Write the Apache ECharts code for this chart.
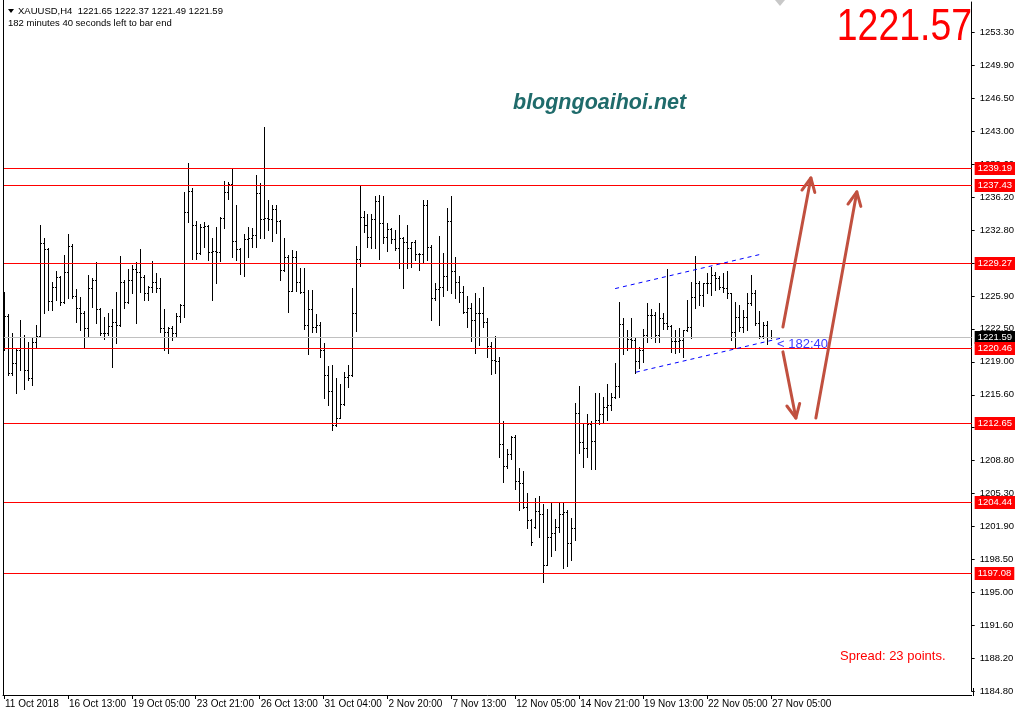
<!DOCTYPE html>
<html><head><meta charset="utf-8">
<script src="https://cdn.jsdelivr.net/npm/echarts@6/dist/echarts.min.js"></script>
<style>html,body{margin:0;padding:0;background:#fff}#c{width:1017px;height:718px}</style>
</head><body><div id="c"></div>
<script>
// OHLC bars, XAUUSD H4 (open, high, low, close)
const bars = [
[1221.5,1226.34,1220.28,1223.85],[1223.85,1224.02,1217.68,1217.85],[1217.85,1222.08,1217.68,1218.89],[1218.89,1220.35,1215.78,1220.28],
[1220.28,1223.40,1218.20,1221.60],[1221.60,1221.84,1216.19,1218.20],[1218.20,1221.15,1217.16,1217.40],[1217.40,1221.60,1216.64,1221.15],
[1221.15,1222.88,1220.63,1221.77],[1221.77,1233.27,1221.60,1231.37],[1231.37,1231.96,1224.09,1230.78],[1230.78,1230.90,1224.44,1225.41],
[1225.41,1227.31,1224.44,1226.86],[1226.86,1228.49,1225.48,1227.90],[1227.90,1228.00,1224.96,1225.30],[1225.30,1230.16,1225.20,1228.35],
[1228.35,1232.34,1225.65,1231.09],[1231.09,1231.26,1225.65,1225.93],[1225.93,1226.62,1223.23,1224.61],[1224.61,1225.82,1222.36,1224.16],
[1224.16,1224.30,1220.45,1222.60],[1222.60,1228.08,1221.67,1226.76],[1226.76,1227.73,1224.78,1227.56],[1227.56,1229.39,1223.12,1224.51],
[1224.51,1224.60,1221.84,1222.01],[1222.01,1223.74,1221.39,1222.01],[1222.01,1224.09,1221.84,1222.81],[1222.81,1224.51,1218.55,1223.16],
[1223.16,1226.27,1220.97,1222.88],[1222.88,1230.05,1222.80,1227.38],[1227.38,1227.56,1224.61,1225.30],[1225.30,1228.70,1225.13,1227.56],
[1227.56,1229.12,1226.17,1228.70],[1228.70,1229.39,1223.05,1228.35],[1228.35,1230.78,1226.34,1227.90],[1227.90,1228.08,1225.48,1226.17],
[1226.17,1226.93,1225.48,1226.86],[1226.86,1229.53,1226.34,1227.31],[1227.31,1228.25,1226.34,1226.76],[1226.76,1227.80,1222.19,1222.53],
[1222.53,1224.51,1220.28,1222.12],[1222.12,1222.71,1220.00,1222.60],[1222.60,1222.81,1221.32,1222.01],[1222.01,1224.09,1221.67,1223.85],
[1223.85,1225.06,1223.16,1224.96],[1224.96,1236.67,1223.74,1234.66],[1234.66,1239.75,1233.62,1236.81],[1236.81,1237.09,1229.70,1233.27],
[1233.27,1233.69,1229.70,1230.40],[1230.40,1233.38,1230.30,1233.10],[1233.10,1233.62,1231.02,1233.17],[1233.17,1233.30,1229.64,1230.43],
[1230.43,1231.89,1225.48,1230.57],[1230.57,1233.03,1227.28,1230.43],[1230.43,1234.07,1229.53,1234.04],[1234.04,1237.85,1233.00,1236.74],
[1236.74,1237.78,1235.98,1237.50],[1237.50,1239.17,1229.98,1231.61],[1231.61,1235.35,1229.64,1230.78],[1230.78,1230.90,1228.18,1229.29],
[1229.29,1232.31,1228.01,1231.82],[1231.82,1233.03,1229.98,1231.96],[1231.96,1233.00,1231.02,1232.24],[1232.24,1238.47,1231.02,1236.64],
[1236.64,1237.68,1231.96,1233.90],[1233.90,1243.50,1231.96,1233.97],[1233.97,1235.87,1232.76,1233.86],[1233.86,1235.35,1231.65,1234.90],
[1234.90,1235.35,1232.41,1233.69],[1233.69,1233.80,1227.56,1228.60],[1228.60,1231.96,1228.50,1229.98],[1229.98,1230.10,1224.27,1226.45],
[1226.45,1230.68,1226.40,1229.98],[1229.98,1230.57,1226.41,1227.32],[1227.32,1228.84,1226.24,1226.35],[1226.35,1228.84,1222.43,1222.88],
[1222.88,1226.52,1219.83,1224.51],[1224.51,1226.52,1222.19,1222.71],[1222.71,1224.02,1222.19,1222.88],[1222.88,1223.23,1219.59,1220.28],
[1220.28,1220.97,1215.26,1217.68],[1217.68,1218.62,1214.56,1216.02],[1216.02,1218.72,1211.97,1212.49],[1212.49,1217.34,1212.38,1213.25],
[1213.25,1216.71,1213.20,1214.63],[1214.63,1217.96,1214.56,1217.51],[1217.51,1218.72,1216.47,1217.68],[1217.68,1226.69,1217.60,1224.16],
[1224.16,1231.09,1222.29,1229.71],[1229.71,1237.36,1229.01,1234.07],[1234.07,1234.73,1232.58,1233.28],[1233.28,1234.38,1231.02,1231.99],
[1231.99,1234.38,1230.85,1233.86],[1233.86,1236.29,1230.85,1235.77],[1235.77,1236.39,1229.71,1233.45],[1233.45,1236.29,1231.44,1231.99],
[1231.99,1233.52,1230.61,1232.82],[1232.82,1233.00,1231.37,1231.79],[1231.79,1232.76,1230.68,1230.85],[1230.86,1234.32,1228.78,1231.97],
[1231.97,1232.07,1226.70,1231.48],[1231.48,1233.28,1228.78,1230.86],[1230.86,1231.55,1228.95,1231.48],[1231.48,1231.72,1229.64,1230.23],
[1230.23,1230.34,1228.60,1230.23],[1230.23,1235.88,1229.47,1235.36],[1235.36,1235.88,1229.64,1230.96],[1230.96,1231.20,1223.41,1225.66],
[1225.66,1227.22,1225.49,1226.63],[1226.63,1232.14,1222.89,1226.87],[1226.87,1230.34,1225.90,1228.01],[1228.01,1235.01,1226.53,1233.70],
[1233.70,1236.30,1226.18,1228.50],[1228.50,1229.99,1225.73,1227.39],[1227.39,1227.98,1225.31,1226.35],[1226.35,1226.98,1224.10,1224.27],
[1224.27,1225.90,1222.71,1224.62],[1224.62,1225.14,1221.26,1223.41],[1223.41,1226.18,1220.01,1224.10],[1224.10,1225.73,1220.81,1224.10],
[1224.10,1226.80,1222.71,1223.16],[1223.16,1223.58,1219.53,1220.70],[1220.70,1221.15,1217.76,1219.25],[1219.25,1221.74,1217.93,1219.18],
[1219.18,1219.59,1209.20,1210.48],[1210.48,1212.94,1206.60,1208.23],[1208.23,1210.00,1207.99,1209.44],[1209.44,1211.35,1208.92,1211.28],
[1211.28,1211.45,1205.80,1206.67],[1206.67,1208.06,1203.66,1206.50],[1206.50,1207.71,1203.83,1204.00],[1204.00,1205.39,1201.75,1202.62],
[1202.62,1202.70,1200.02,1200.36],[1201.90,1204.87,1201.80,1203.59],[1203.59,1205.11,1200.88,1203.24],[1203.24,1204.28,1196.21,1197.94],
[1197.94,1203.76,1197.90,1200.88],[1200.88,1204.35,1198.91,1201.23],[1201.23,1202.69,1199.50,1201.92],[1201.92,1204.35,1201.40,1203.24],
[1203.24,1204.45,1197.59,1203.48],[1203.48,1203.66,1197.83,1200.23],[1200.23,1202.82,1198.46,1201.78],[1201.78,1214.74,1200.54,1213.70],
[1213.70,1216.55,1209.55,1210.69],[1210.69,1212.73,1208.16,1210.14],[1210.14,1213.64,1209.20,1212.60],[1212.60,1212.90,1207.88,1210.83],
[1210.83,1215.85,1207.88,1213.00],[1213.00,1215.85,1212.56,1213.60],[1213.60,1215.43,1212.66,1214.39],[1214.39,1216.75,1213.01,1214.57],
[1214.57,1215.78,1214.05,1215.43],[1215.43,1218.90,1215.30,1216.54],[1216.54,1225.31,1215.43,1222.99],[1222.99,1223.58,1219.87,1221.60],
[1221.60,1222.36,1220.28,1221.39],[1221.39,1223.65,1220.63,1221.32],[1221.32,1221.50,1217.93,1219.14],[1219.14,1220.63,1218.38,1220.28],
[1220.28,1222.47,1219.07,1221.84],[1221.84,1225.21,1221.15,1223.92],[1223.92,1224.51,1221.50,1223.92],[1223.92,1224.27,1221.15,1221.84],
[1221.84,1225.14,1221.15,1223.58],[1223.58,1224.10,1222.47,1223.13],[1223.13,1228.70,1222.47,1222.78],[1222.78,1222.90,1220.11,1221.26],
[1221.26,1222.36,1219.94,1221.26],[1221.26,1222.54,1220.11,1221.32],[1221.32,1222.36,1219.59,1222.36],[1222.36,1225.48,1222.30,1222.64],
[1222.64,1227.39,1221.50,1225.83],[1225.83,1230.06,1224.62,1227.22],[1227.22,1227.40,1224.96,1226.00],[1226.00,1227.28,1224.86,1227.22],
[1227.22,1228.25,1226.18,1227.22],[1227.22,1228.95,1226.00,1228.08],[1228.08,1228.43,1226.52,1227.73],[1227.73,1227.98,1226.59,1226.87],
[1226.87,1228.25,1226.35,1226.70],[1226.70,1228.53,1225.66,1226.18],[1226.18,1226.20,1221.32,1222.19],[1222.19,1225.31,1220.46,1223.75],
[1223.75,1224.96,1222.29,1222.71],[1222.71,1224.44,1222.19,1223.75],[1223.75,1226.18,1222.36,1225.14],[1225.14,1228.08,1224.96,1226.18],
[1226.18,1226.52,1222.88,1223.06],[1223.06,1224.34,1221.50,1221.74],[1221.74,1223.23,1221.50,1222.88],[1222.88,1223.33,1220.91,1221.60],
[1221.65,1222.37,1221.49,1221.59]
];
const xLabels = ["11 Oct 2018","16 Oct 13:00","19 Oct 05:00","23 Oct 21:00","26 Oct 13:00","31 Oct 04:00","2 Nov 20:00","7 Nov 13:00","12 Nov 05:00","14 Nov 21:00","19 Nov 13:00","22 Nov 05:00","27 Nov 05:00"];
const xLabelStep = 16;
const yLabels = ["1184.80","1188.20","1191.60","1195.00","1198.50","1201.90","1205.30","1208.80","1212.20","1215.60","1219.00","1222.50","1225.90","1229.30","1232.80","1236.20","1239.60","1243.00","1246.50","1249.90","1253.30"];
const yStart = 1184.8, yStep = 3.425;
const levels = [1239.19,1237.43,1229.27,1220.46,1212.65,1204.44,1197.08];
const bid = 1221.59;
const bigPrice = "1221.57";
// annotation lines: [barIndex, price] pairs
const channelUpper = [[153,1226.66],[189.8,1230.26]];
const channelLower = [[158.2,1217.97],[194.75,1221.53]];
const trendDotted = [[0.25,1184.76],[182.25,1195.65]];
const arrows = [
  [[195,1222.67],[202,1238.16]],
  [[195,1220.08],[198.25,1213.21]],
  [[203.25,1213.21],[213.5,1236.71]]
];

const FONT = '"Liberation Sans", Arial, sans-serif';
const barData = bars.map((b,i)=>[i,b[0],b[1],b[2],b[3]]);
const xTicks = xLabels.map((_,k)=>k*xLabelStep);
const yTicks = yLabels.map((_,k)=>+(yStart+k*yStep).toFixed(4));
// horizontal price lines: [price, lineColor, boxColor]
const hLines = [[bid,'#c0c0c0','#000000']].concat(levels.map(v=>[v,'#ff0000','#ff0000']));

const chart = echarts.init(document.getElementById('c'));
chart.setOption({
  animation:false,
  backgroundColor:'#fff',
  grid:{left:3, top:2, width:970, height:689.3, show:false},
  xAxis:{type:'value', min:-0.25, max:242.25, offset:3.7,
    axisLine:{show:true, onZero:false, lineStyle:{color:'#000', width:1}},
    axisTick:{show:true, customValues:xTicks, length:4, lineStyle:{color:'#000'}},
    axisLabel:{show:true, customValues:xTicks, formatter:v=>xLabels[Math.round(v/xLabelStep)]||'',
      align:'left', color:'#000', fontSize:10, fontFamily:FONT, margin:4, padding:[0,0,0,1], hideOverlap:false},
    splitLine:{show:false}},
  yAxis:{type:'value', position:'right', min:yStart, max:1256.45,
    axisLine:{show:true, onZero:false, lineStyle:{color:'#000'}},
    axisTick:{show:true, customValues:yTicks, length:3, lineStyle:{color:'#000'}},
    axisLabel:{show:true, customValues:yTicks, formatter:v=>yLabels[Math.round((v-yStart)/yStep)]||'',
      color:'#000', fontSize:9.5, fontFamily:FONT, margin:8},
    splitLine:{show:false}},
  series:[
    {type:'custom', name:'bars', data:barData, z:3, silent:true,
      renderItem:(params, api)=>{
        const i=api.value(0), o=api.value(1), h=api.value(2), l=api.value(3), c=api.value(4);
        const pH=api.coord([i,h]), pL=api.coord([i,l]), pO=api.coord([i,o]), pC=api.coord([i,c]);
        const x=Math.round(pH[0]);
        const yT=Math.round(pH[1]), yB=Math.round(pL[1]);
        return {type:'group', children:[
          {type:'rect', shape:{x:x, y:yT, width:1, height:Math.max(1,yB-yT+1)}, style:{fill:'#000'}},
          {type:'rect', shape:{x:x-1, y:Math.round(pO[1]), width:1, height:1}, style:{fill:'#000'}},
          {type:'rect', shape:{x:x+1, y:Math.round(pC[1]), width:1, height:1}, style:{fill:'#000'}}
        ]};
      }},
    {type:'custom', name:'levels', data:hLines.map((h,k)=>[k]), z:4, silent:true, clip:false,
      renderItem:(params, api)=>{
        const h=hLines[api.value(0)];
        const cs=params.coordSys;
        const y=Math.round(api.coord([0,h[0]])[1]);
        return {type:'group', children:[
          {type:'rect', shape:{x:cs.x+1, y:y, width:cs.width-1, height:1}, style:{fill:h[1]}},
          {type:'text', x:cs.x+cs.width+3, y:y+0.5, style:{text:h[0].toFixed(2), fill:'#fff', backgroundColor:h[2],
            padding:[2,3,1,3], font:'9.5px '+FONT, verticalAlign:'middle', align:'left'}}
        ]};
      }},
    {type:'line', data:[], z:5, silent:true,
      markLine:{symbol:'none', silent:true, animation:false, label:{show:false},
        data:[
          [{coord:channelUpper[0], lineStyle:{color:'#0000ff', width:1, type:[4,4]}},{coord:channelUpper[1]}],
          [{coord:channelLower[0], lineStyle:{color:'#0000ff', width:1, type:[4,4]}},{coord:channelLower[1]}],
          [{coord:trendDotted[0], lineStyle:{color:'#ff0000', width:1, type:[3,3]}},{coord:trendDotted[1]}]
        ]}},
    {type:'custom', name:'arrows', data:arrows.map((a,k)=>[k]), z:6, silent:true, clip:false,
      renderItem:(params, api)=>{
        const a=arrows[api.value(0)];
        const p1=api.coord(a[0]), p2=api.coord(a[1]);
        const ang=Math.atan2(p2[1]-p1[1], p2[0]-p1[0]);
        const L=15, s=0.45;
        const h1=[p2[0]-L*Math.cos(ang-s), p2[1]-L*Math.sin(ang-s)];
        const h2=[p2[0]-L*Math.cos(ang+s), p2[1]-L*Math.sin(ang+s)];
        const st={stroke:'#c1503f', lineWidth:3, lineCap:'round', lineJoin:'round', fill:null};
        return {type:'group', children:[
          {type:'line', shape:{x1:p1[0],y1:p1[1],x2:p2[0],y2:p2[1]}, style:st},
          {type:'polyline', shape:{points:[h1,p2,h2]}, style:st}
        ]};
      }}
  ],
  graphic:[
    {type:'rect', shape:{x:3, y:0, width:1, height:696}, style:{fill:'#000'}, silent:true},
    {type:'rect', shape:{x:973, y:688, width:1, height:8}, style:{fill:'#000'}, silent:true},
    {type:'polygon', shape:{points:[[775,0],[785,0],[780,6]]}, style:{fill:'#c8c8c8'}, silent:true},
    {type:'polygon', shape:{points:[[8,9],[14,9],[11,13]]}, style:{fill:'#000'}, silent:true},
    {type:'text', left:18, top:6, style:{text:'XAUUSD,H4  1221.65 1222.37 1221.49 1221.59', fill:'#000', font:'9.5px '+FONT}, silent:true},
    {type:'text', left:8, top:18, style:{text:'182 minutes 40 seconds left to bar end', fill:'#000', font:'9.5px '+FONT}, silent:true},
    {type:'text', x:972, y:6, scaleX:0.85, style:{text:bigPrice, fill:'#ff0000', font:'44px '+FONT, align:'right', verticalAlign:'top'}, silent:true},
    {type:'text', left:513, top:92, style:{text:'blogngoaihoi.net', fill:'#1f6b6b', font:'italic bold 21.5px '+FONT}, silent:true},
    {type:'text', left:840, top:650, style:{text:'Spread: 23 points.', fill:'#ff0000', font:'13px '+FONT}, silent:true},
    {type:'text', left:777, top:338, style:{text:'< 182:40', fill:'#3b3bff', font:'13px '+FONT}, silent:true}
  ]
});
</script></body></html>
